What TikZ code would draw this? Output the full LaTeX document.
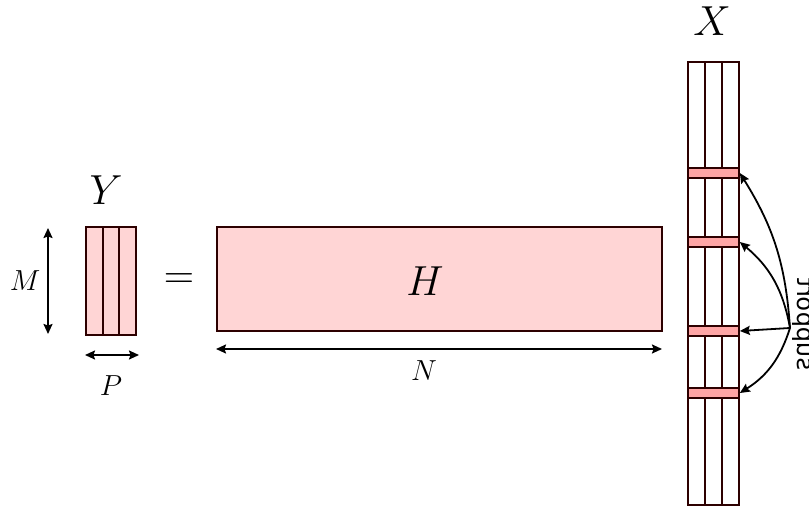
\RequirePackage{fix-cm}
\documentclass[tikz,border=0pt]{standalone}
\usepackage{fontspec}
\newfontfamily\suppfont{DejaVu Sans}
\usetikzlibrary{arrows.meta}
\definecolor{edge}{RGB}{45,0,0}
\definecolor{lightpink}{RGB}{255,213,213}
\definecolor{rowpink}{RGB}{255,165,165}
\tikzset{
  mat/.style={draw=edge, line width=1.7pt, fill=lightpink},
  col/.style={draw=edge, line width=1.7pt},
  row/.style={draw=edge, line width=1.7pt, fill=rowpink, rectangle, inner sep=0pt, minimum width=51pt, minimum height=10pt},
  dim/.style={line width=1.8pt, {Stealth[length=10pt,width=9pt,inset=1.5pt]}-{Stealth[length=10pt,width=9pt,inset=1.5pt]}},
  sup/.style={line width=1.8pt, -{Stealth[length=10pt,width=9pt,inset=1.5pt]}},
  big/.style={font=\fontsize{42}{42}\selectfont, inner sep=0pt},
  mid/.style={font=\fontsize{29}{29}\selectfont, inner sep=0pt}
}
\begin{document}
\begin{tikzpicture}[x=1pt,y=-1pt]
\useasboundingbox (0,0) rectangle (809,508);
% Y matrix
\draw[mat] (86,227) rectangle (136,335);
\draw[col] (103,227) -- (103,335) (119,227) -- (119,335);
\node[big] (ylab) at (106,190) {$Y$};
\coordinate (mt) at (48,228);
\coordinate (mb) at (48,334);
\draw[dim] (mt) -- (mb);
\node[mid] (mlab) at (25,281) {$M$};
\coordinate (pl) at (85,355);
\coordinate (pr) at (139,355);
\draw[dim] (pl) -- (pr);
\node[mid] (plab) at (111,386) {$P$};
% equals
\node[big] (eq) at (179,281) {$=$};
% H matrix
\draw[mat] (217,227) rectangle (662,331);
\node[big] (hlab) at (425,281) {$H$};
\coordinate (nl) at (216,349);
\coordinate (nr) at (662,349);
\draw[dim] (nl) -- (nr);
\node[mid] (nlab) at (424,371) {$N$};
% X column
\draw[col,fill=white] (688,62) rectangle (739,505);
\draw[col] (705,62) -- (705,505) (722,62) -- (722,505);
\node[big] (xlab) at (712,21) {$X$};
\node[row] (r1) at (713.5,173) {};
\node[row] (r2) at (713.5,242) {};
\node[row] (r3) at (713.5,331) {};
\node[row] (r4) at (713.5,393) {};
% support (mirrored, as in the reference)
\node[font=\suppfont\fontsize{24}{24}\selectfont, rotate=90, yscale=-1, anchor=base, inner sep=0pt] (stext) at (797,324) {support};
\coordinate (s) at (790,328);
\draw[sup] (s) to[bend right=14] (r1.east);
\draw[sup] (s) to[bend right=20] (r2.east);
\draw[sup] (s) -- (r3.east);
\draw[sup] (s) to[bend left=20] (r4.east);
\end{tikzpicture}
\end{document}
